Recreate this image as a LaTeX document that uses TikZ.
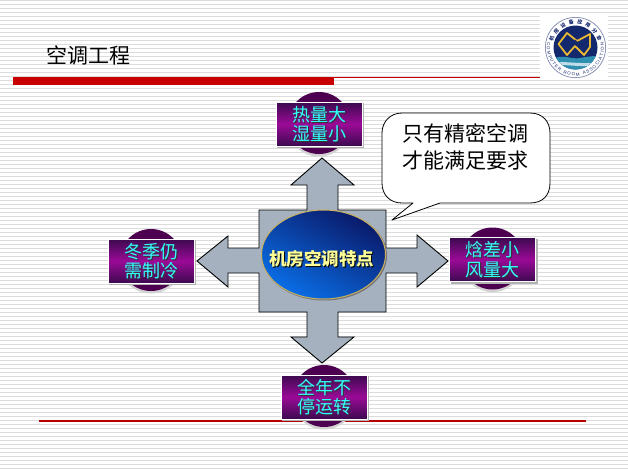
\documentclass[tikz,border=0pt]{standalone}
\usepackage{fontspec}
\newfontfamily\cjk{Noto Sans CJK SC}
\newfontfamily\latn{Liberation Sans}
\usetikzlibrary{decorations.text,shapes.geometric}
\definecolor{stripe}{HTML}{DCDCDC}
\definecolor{barred}{HTML}{C80000}
\definecolor{crossgrey}{HTML}{A5B1BF}
\definecolor{purpledark}{HTML}{3C0A50}
\definecolor{purplemid}{HTML}{9A0A96}
\definecolor{discpurple}{HTML}{4E0050}
\definecolor{cyantext}{HTML}{33FFFF}
\definecolor{yellowtext}{HTML}{FFFF99}
\definecolor{navy}{HTML}{0A1A6A}
\definecolor{brightblue}{HTML}{0A6EE6}
\definecolor{goldedge}{HTML}{C8B060}
\definecolor{logonavy}{HTML}{14286E}
\definecolor{logogold}{HTML}{E8B830}
\definecolor{logoteal}{HTML}{2E8FB0}
\tikzset{
  disc/.style={circle,draw=none,fill=discpurple,minimum size=#1,inner sep=0pt},
  discrim/.style={circle,draw=none,fill=gray!35,minimum size=#1,inner sep=0pt},
  topicbox/.style={draw=white,line width=0.9pt,minimum width=86pt,minimum height=44pt,inner sep=0pt,
    top color=purpledark,bottom color=purpledark,middle color=purplemid},
  boxshadow/.style={fill=gray!60,draw=none,minimum width=87pt,minimum height=45pt,inner sep=0pt},
  topictext/.style={font=\cjk\fontsize{18}{19.5}\selectfont,align=center,text=cyantext,inner sep=0pt},
  topicshade/.style={font=\cjk\fontsize{18}{19.5}\selectfont,align=center,text=black!80,inner sep=0pt},
  blacktext/.style={font=\cjk\fontsize{21}{27}\selectfont,align=center,text=black,inner sep=0pt},
}
\newcommand{\topicitem}[4]{% name, x, y, text
  \node[discrim=64pt] (#1rim) at (#2,#3+0.5) {};
  \node[disc=62pt] (#1disc) at (#2,#3-1) {};
  \node[boxshadow] (#1shadow) at (#2+1.5,#3+1.5) {};
  \node[topicbox] (#1) at (#2,#3) {};
  \node[topicshade] (#1s) at (#2+1.1,#3+1.1) {#4};
  \node[topictext] (#1t) at (#2,#3) {#4};
}
\begin{document}
\begin{tikzpicture}[x=1pt,y=-1pt]
\useasboundingbox (0,0) rectangle (628,469);
\fill[white] (0,0) rectangle (628,469);
\foreach \k in {0,...,117}{
  \fill[stripe] (0,{4*\k}) rectangle (628,{4*\k+1.1});
}
% logo
\fill[white] (540,15) rectangle (608,80);
\fill[logonavy!55] (575.5,47.5) circle[radius=30.5];
\fill[white] (575.5,47.5) circle[radius=29.7];
\fill[logonavy] (575.5,47.5) circle[radius=22];
\begin{scope}
  \clip (575.5,47.5) circle[radius=22];
  \fill[logoteal] (550,60) .. controls (562,53) and (572,60) .. (580,58) .. controls (590,56) and (596,56) .. (600,56) -- (600,72) -- (550,72) -- cycle;
  \fill[white!70!logoteal] (552,63) .. controls (565,60) and (585,66) .. (600,61) -- (600,64) .. controls (585,69) and (565,63) .. (552,66) -- cycle;
\end{scope}
\draw[logogold,line width=1.8pt,line join=round] (558.5,44) -- (567,33) -- (577,41) -- (590,34) -- (590,47) -- (584,55) -- (575,46) -- (567,55) -- cycle;
\draw[logonavy,line width=0.7pt,line join=round] (563,44) -- (567,38.5) -- (577,46) -- (586,40) -- (586,46) -- (584,49) -- (575,40) -- (567,50) -- cycle;
\path[postaction={decorate,decoration={text along path,text align={fit to path},
  text={|\cjk\bfseries\fontsize{5}{6}\selectfont\color{logonavy}|机房设备应用分会}}}]
  (575.5,47.5) ++(195:23.5) arc[start angle=195,end angle=345,radius=23.5];
\path[postaction={decorate,decoration={text along path,text align={fit to path},
  text={|\latn\fontsize{4.4}{6}\selectfont\color{logonavy}|COMPUTER ROOM ASSOCIATION}}}]
  (575.5,47.5) ++(190:28.5) arc[start angle=190,end angle=-10,radius=28.5];
% title and rules
\node[font=\cjk\fontsize{21}{24}\selectfont,inner sep=0pt] (title) at (88,55) {空调工程};
\fill[barred] (13,77) rectangle (334,85);
\coordinate (ruleA) at (334,77.5);
\coordinate (ruleB) at (540,77.5);
\draw[barred,line width=1pt] (ruleA) -- (ruleB);
\coordinate (footA) at (39,421);
\coordinate (footB) at (586,421);
\draw[barred!90!black,line width=1.1pt] (footA) -- (footB);
% cross
\draw[fill=crossgrey,line width=0.9pt,line join=miter]
  (322,158) -- (354,185) -- (338,185) -- (338,210) -- (386,210) -- (386,248) -- (417,248) -- (417,235)
  -- (448,261) -- (417,287) -- (417,273) -- (386,273) -- (386,312) -- (338,312) -- (338,337) -- (354,337)
  -- (322,363) -- (291,337) -- (307,337) -- (307,312) -- (259,312) -- (259,273) -- (228,273) -- (228,287)
  -- (197,261) -- (228,236) -- (228,248) -- (259,248) -- (259,210) -- (307,210) -- (307,185) -- (291,185) -- cycle;
% centre
\node[ellipse,minimum width=125pt,minimum height=90pt,inner sep=0pt,fill=black!55] (hubshadow) at (324.5,255.5) {};
\node[ellipse,draw=goldedge,line width=1pt,minimum width=124pt,minimum height=89pt,inner sep=0pt,
  top color=navy,bottom color=brightblue,shading angle=-30] (hub) at (323.5,254.5) {};
\node[font=\cjk\bfseries\fontsize{17.5}{20}\selectfont,text=black,inner sep=0pt] (hubs) at (322.5,260) {机房空调特点};
\node[font=\cjk\bfseries\fontsize{17.5}{20}\selectfont,text=yellowtext,inner sep=0pt] (hubt) at (321.5,258.5) {机房空调特点};
% callout
\draw[fill=white,line width=0.8pt,line join=round] (402,113) -- (530,113)
  .. controls (543,113) and (550,122) .. (550,133) -- (550,183)
  .. controls (550,195) and (543,203) .. (530,203) -- (440,203) -- (392,220) -- (413,203) -- (402,203)
  .. controls (390,203) and (382,195) .. (382,183) -- (382,133)
  .. controls (382,122) and (390,113) .. (402,113) -- cycle;
\node[blacktext] (note) at (465.5,146.5) {只有精密空调\\才能满足要求};
% topics
\topicitem{heat}{319}{124}{热量大\\湿量小}
\topicitem{winter}{151}{261}{冬季仍\\需制冷}
\topicitem{enth}{492.5}{259.5}{焓差小\\风量大}
\topicitem{year}{324}{397}{全年不\\停运转}
\end{tikzpicture}
\end{document}
